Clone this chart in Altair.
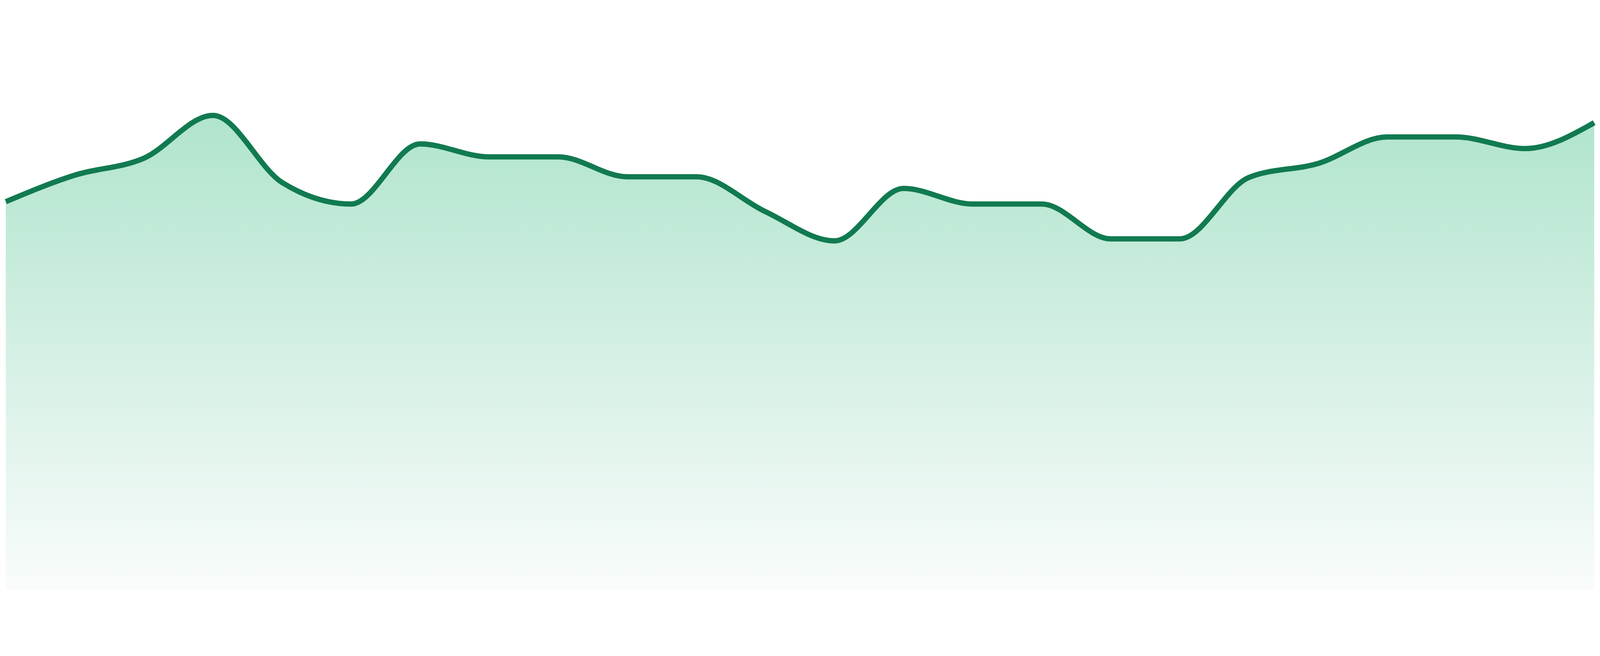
import altair as alt
import pandas as pd

# point index along the x axis (evenly spaced)
idx = list(range(24))
# series values
values = [1169, 1249, 1300, 1429, 1227, 1162, 1343, 1304, 1304, 1244, 1244, 1139,
          1051, 1209, 1162, 1162, 1057, 1057, 1242, 1284, 1364, 1364, 1329, 1407]

df = pd.DataFrame({"i": idx, "v": values})

x_enc = alt.X("i:Q", axis=None, scale=alt.Scale(domain=[0, 23], nice=False, zero=False))
y_enc = alt.Y("v:Q", axis=None, scale=alt.Scale(domain=[0, 1624], nice=False, zero=True))

grad = alt.Gradient(
    gradient="linear",
    stops=[alt.GradientStop(color="#b0e4cd", offset=0),
           alt.GradientStop(color="#f9fcfb", offset=1)],
    x1=1, x2=1, y1=0, y2=1,
)

area = alt.Chart(df).mark_area(interpolate="monotone", color=grad).encode(x=x_enc, y=y_enc)
line = alt.Chart(df).mark_line(interpolate="monotone", color="#117a50", strokeWidth=16,
                               strokeJoin="round").encode(x=x_enc, y=y_enc)

chart = (area + line).properties(width=4784, height=1624, padding=0).configure_view(strokeWidth=0)

chart.save("out.html", embed_options={"renderer": "svg", "actions": False})
